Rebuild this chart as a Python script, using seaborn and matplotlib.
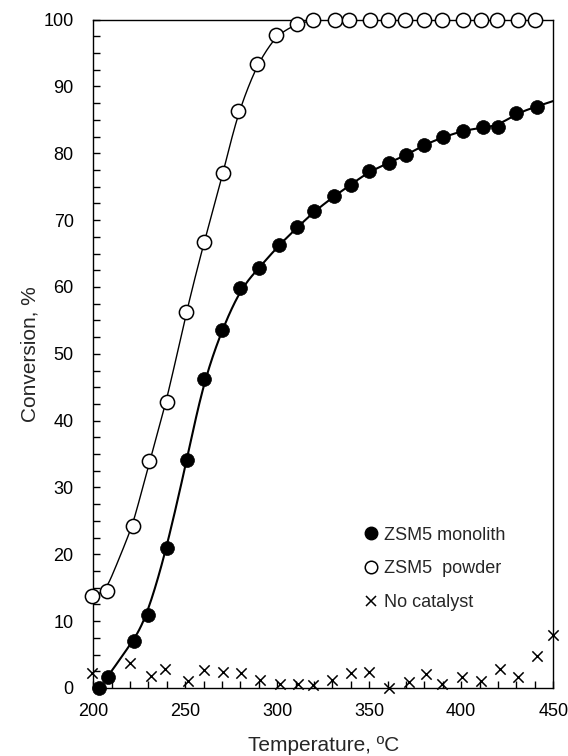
import numpy as np
import pandas as pd
import matplotlib
matplotlib.use("Agg")
import matplotlib.pyplot as plt
from matplotlib.lines import Line2D
from matplotlib.ticker import MultipleLocator
import seaborn as sns

# Conversion (%) vs. temperature (°C)
temp_monolith = [203, 208, 222, 230, 240, 251, 260, 270, 280, 290, 301, 311, 320,
                 331, 340, 350, 361, 370, 380, 390, 401, 412, 420, 430, 441]
conv_monolith = [0.0, 1.7, 7.1, 10.9, 20.9, 34.1, 46.3, 53.6, 59.9, 62.8, 66.3, 68.9, 71.3,
                 73.6, 75.3, 77.3, 78.6, 79.7, 81.3, 82.4, 83.4, 83.9, 84.0, 86.0, 87.0]

temp_powder = [199.5, 207.5, 221.5, 230.5, 240, 250.5, 260.3, 270.8, 278.5, 289, 299.5,
               310.5, 319.7, 331.5, 338.8, 350.2, 360, 369.6, 379.9, 389.8, 400.9,
               410.7, 419.4, 430.6, 440.2]
conv_powder = [13.8, 14.5, 24.2, 33.9, 42.8, 56.2, 66.8, 77.0, 86.3, 93.3, 97.7,
               99.4, 99.9, 100.0, 100.0, 100.0, 100.0, 100.0, 100.0, 100.0, 100.0,
               100.0, 100.0, 100.0, 100.0]

temp_blank = [199.6, 220.1, 231.4, 239.1, 251.3, 260.3, 270.3, 280.3, 290.8, 301.3, 311.2,
              319.7, 330.0, 340.2, 350.0, 360.5, 371.4, 381.0, 389.5, 400.4, 410.7,
              421.2, 430.8, 441.1, 449.8]
conv_blank = [2.2, 3.7, 1.8, 2.9, 1.0, 2.7, 2.4, 2.2, 1.2, 0.6, 0.55,
              0.45, 1.2, 2.3, 2.4, 0.0, 0.9, 2.1, 0.6, 1.6, 1.1,
              2.8, 1.7, 4.8, 7.9]

labels = ["ZSM5 monolith", "ZSM5  powder", "No catalyst"]
x_ticks = [200, 250, 300, 350, 400, 450]
y_ticks = [0, 10, 20, 30, 40, 50, 60, 70, 80, 90, 100]


def local_linear(x, y, grid, bw):
    """Gaussian-kernel local linear regression evaluated on grid."""
    x = np.asarray(x, float)
    y = np.asarray(y, float)
    fit = np.empty(len(grid))
    for i, g in enumerate(grid):
        w = np.sqrt(np.exp(-0.5 * ((x - g) / bw) ** 2))
        A = np.column_stack([np.ones_like(x), x - g]) * w[:, None]
        beta = np.linalg.lstsq(A, y * w, rcond=None)[0]
        fit[i] = beta[0]
    return fit


sns.set_style("white")
plt.rcParams["font.family"] = ["Liberation Sans", "DejaVu Sans"]

fig = plt.figure(figsize=(5.68, 7.56), dpi=100)
ax = fig.add_axes([0.164, 0.090, 0.810, 0.884])

# smooth trend curves through each catalyst series
grid_m = np.linspace(temp_monolith[1], 450, 400)
curve_m = pd.DataFrame({"T": grid_m,
                        "X": local_linear(temp_monolith, conv_monolith, grid_m, 6.5)})
grid_p = np.linspace(temp_powder[0], 450, 400)
curve_p = pd.DataFrame({"T": grid_p,
                        "X": np.minimum(local_linear(temp_powder, conv_powder, grid_p, 6.0), 100)})

sns.lineplot(data=curve_m, x="T", y="X", color="black", lw=1.5, ax=ax, zorder=2)
sns.lineplot(data=curve_p, x="T", y="X", color="black", lw=1.0, ax=ax, zorder=2)

sns.scatterplot(x=temp_powder, y=conv_powder, marker="o", s=105, facecolor="white",
                edgecolor="black", linewidth=1.1, ax=ax, zorder=3, clip_on=False)
sns.scatterplot(x=temp_monolith, y=conv_monolith, marker="o", s=100, color="black",
                edgecolor="black", linewidth=0.5, ax=ax, zorder=4, clip_on=False)
sns.scatterplot(x=temp_blank, y=conv_blank, marker="x", s=55, color="black",
                linewidth=1.1, ax=ax, zorder=3, clip_on=False)

ax.set_xlim(200, 450)
ax.set_ylim(0, 100)
ax.set_xticks(x_ticks)
ax.set_yticks(y_ticks)
ax.xaxis.set_minor_locator(MultipleLocator(10))
ax.yaxis.set_minor_locator(MultipleLocator(2.5))
ax.tick_params(axis="both", which="both", direction="in", length=5, width=1.0,
               color="black", labelsize=13, labelcolor="black")
ax.tick_params(axis="y", which="both", left=True, pad=14)
ax.tick_params(axis="x", which="both", bottom=True, pad=11)

for side in ["left", "right", "top", "bottom"]:
    ax.spines[side].set_visible(True)
    ax.spines[side].set_color("black")
    ax.spines[side].set_linewidth(1.0)

ax.set_xlabel("Temperature, ºC", fontsize=15, labelpad=11)
ax.set_ylabel("Conversion, %", fontsize=15, labelpad=3)

handles = [
    Line2D([], [], ls="", marker="o", ms=9, mfc="black", mec="black", label=labels[0]),
    Line2D([], [], ls="", marker="o", ms=9, mfc="white", mec="black", mew=1.1, label=labels[1]),
    Line2D([], [], ls="", marker="x", ms=7, mec="black", mew=1.1, label=labels[2]),
]
ax.legend(handles=handles, loc="upper left", bbox_to_anchor=(0.572, 0.252),
          frameon=False, fontsize=13, handlelength=0.8, handletextpad=0.35,
          labelspacing=0.92, borderaxespad=0)

fig.savefig("out.png", dpi=100)
